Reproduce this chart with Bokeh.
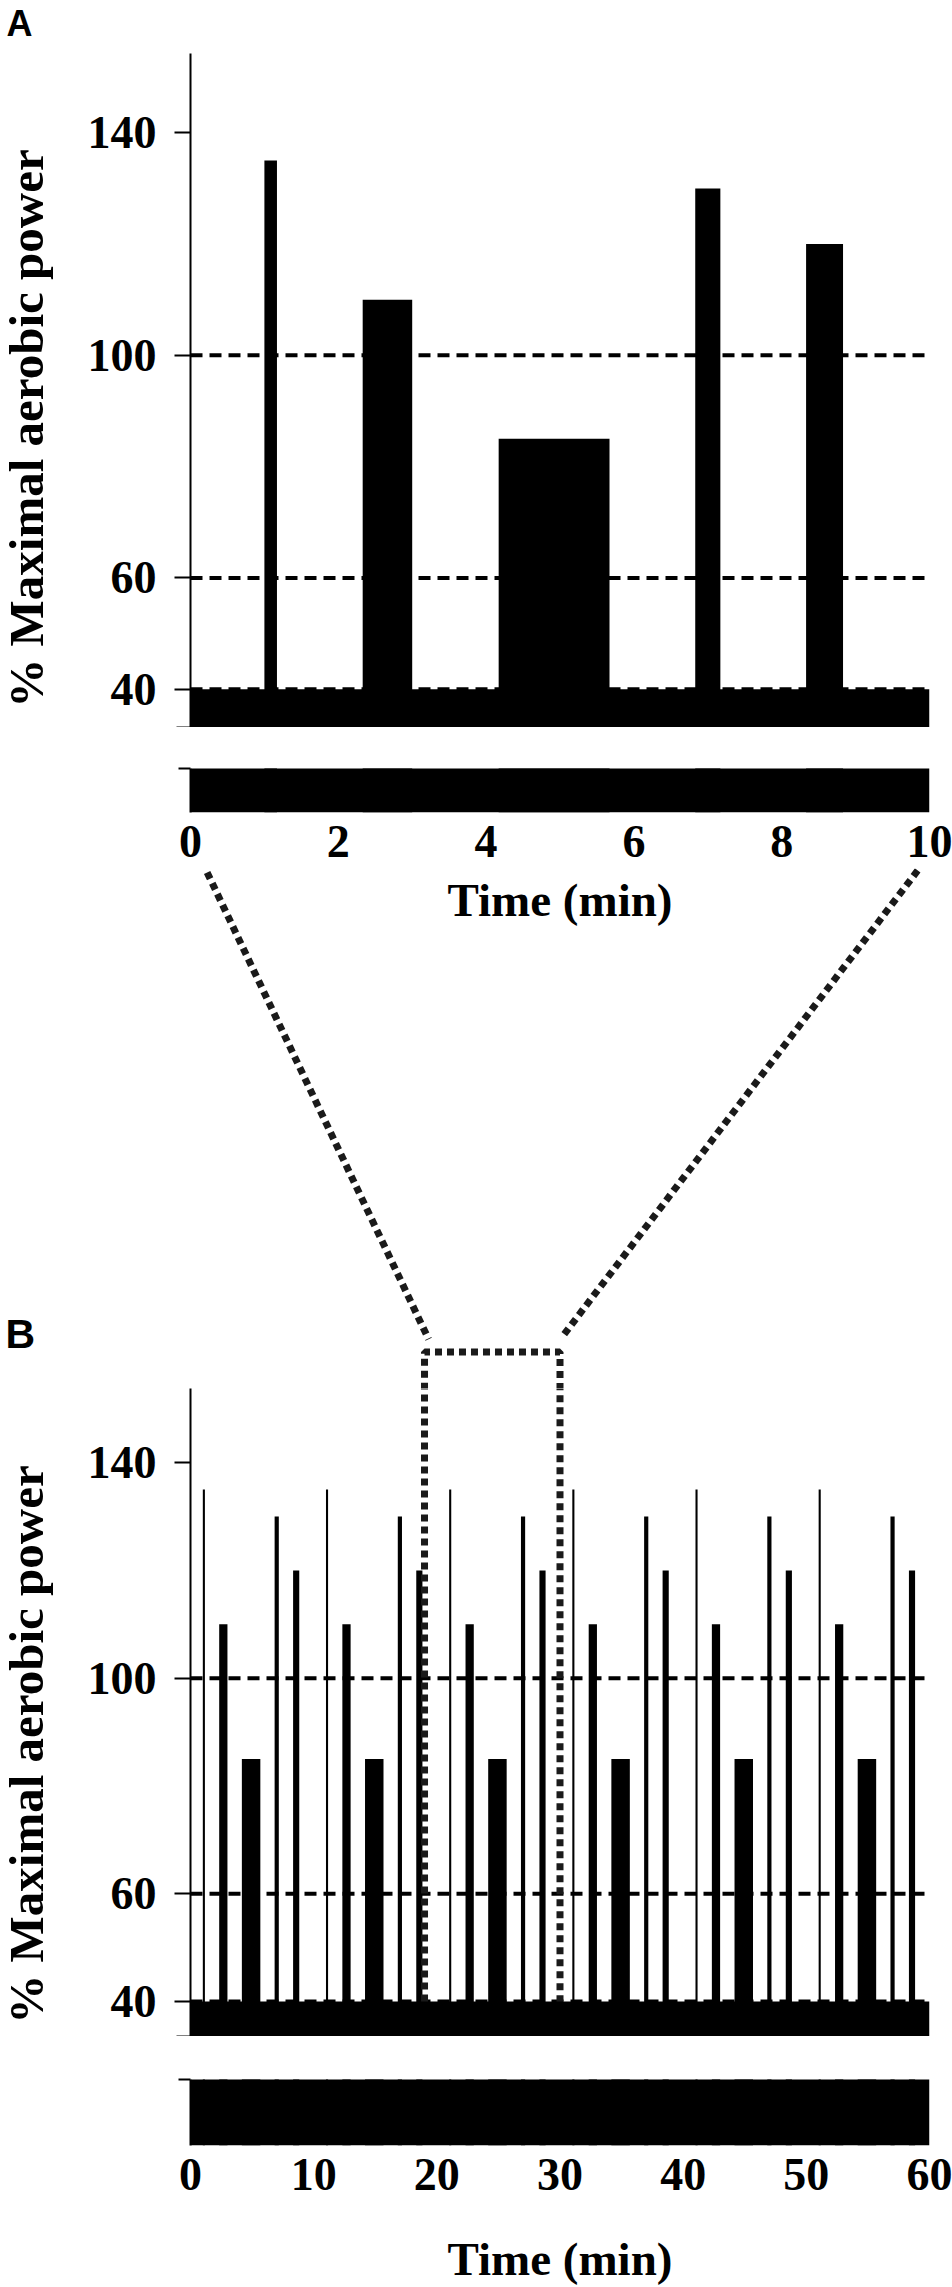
import math
from bokeh.plotting import figure
from bokeh.layouts import column, row
from bokeh.models import Range1d, FixedTicker, Label, LinearAxis, ColumnDataSource
from bokeh.embed import file_html
from bokeh.resources import INLINE

# ---------------- data ----------------
REST_POWER = 40                      # % maximal aerobic power during recovery
y_tick_values = [40, 60, 100, 140]
reference_levels = [40, 60, 100]

# Panel A: one 10-min block
a_duration = 10
a_x_ticks = [0, 2, 4, 6, 8, 10]
a_start = [1.0, 2.33, 4.17, 6.83, 8.33]
a_end = [1.17, 3.0, 5.67, 7.17, 8.83]
a_power = [135, 110, 85, 130, 120]

# Panel B: the 60-min session (six blocks)
b_duration = 60
b_x_ticks = [0, 10, 20, 30, 40, 50, 60]
b_start = [1.0, 2.33, 4.17, 6.83, 8.33,
           11.0, 12.33, 14.17, 16.83, 18.33,
           21.0, 22.33, 24.17, 26.83, 28.33,
           31.0, 32.33, 34.17, 36.83, 38.33,
           41.0, 42.33, 44.17, 46.83, 48.33,
           51.0, 52.33, 54.17, 56.83, 58.33]
b_end = [1.17, 3.0, 5.67, 7.17, 8.83,
         11.17, 13.0, 15.67, 17.17, 18.83,
         21.17, 23.0, 25.67, 27.17, 28.83,
         31.17, 33.0, 35.67, 37.17, 38.83,
         41.17, 43.0, 45.67, 47.17, 48.83,
         51.17, 53.0, 55.67, 57.17, 58.83]
b_power = [135, 110, 85, 130, 120,
           135, 110, 85, 130, 120,
           135, 110, 85, 130, 120,
           135, 110, 85, 130, 120,
           135, 110, 85, 130, 120,
           135, 110, 85, 130, 120]
zoom_window = [19, 30]               # part of B magnified in A

y_label = "% Maximal aerobic power"
x_label = "Time (min)"

# ---------------- layout / style constants ----------------
TOTAL_H = 2287
LEFT_W = 60
MAIN_W = 892
BL, BR = 130, 23
SERIF = "Liberation Serif"
SANS = "Liberation Sans"
INK = "black"
DOT = "#1a1a1a"


def make_fig(width, height, x_range, y_range, top=0, bottom=0, left=BL, right=BR):
    p = figure(width=width, height=height, x_range=x_range, y_range=y_range,
               output_backend="svg", toolbar_location=None,
               x_axis_location=None, y_axis_location=None,
               min_border_left=left, min_border_right=right,
               min_border_top=top, min_border_bottom=bottom)
    p.outline_line_color = None
    p.background_fill_color = "white"
    p.border_fill_color = "white"
    p.grid.visible = False
    return p


def style_axis(ax, size="46px"):
    ax.axis_line_color = INK
    ax.axis_line_width = 2
    ax.major_tick_line_color = INK
    ax.major_tick_line_width = 2
    ax.minor_tick_line_color = INK
    ax.minor_tick_line_width = 2
    ax.minor_tick_in = 0
    ax.major_label_text_font = SERIF
    ax.major_label_text_font_style = "bold"
    ax.major_label_text_font_size = size
    ax.major_label_text_color = INK


def draw_bars(p, duration, src):
    p.quad(left=[0], right=[duration], bottom=[0], top=[REST_POWER],
           fill_color=INK, line_color=None)
    p.quad(left="start", right="end", bottom=0, top="power", source=src,
           fill_color=INK, line_color=None)


def upper_y_axis(p, y_bottom):
    ax = LinearAxis(ticker=FixedTicker(ticks=y_tick_values, minor_ticks=[y_bottom]))
    style_axis(ax)
    ax.major_tick_out = 16
    ax.major_tick_in = 0
    ax.minor_tick_out = 14
    ax.major_label_standoff = 18
    p.add_layout(ax, "left")


def strip_axes(p, strip_top, ticks, standoff, with_label):
    ay = LinearAxis(ticker=FixedTicker(ticks=[], minor_ticks=[strip_top]))
    style_axis(ay)
    ay.minor_tick_out = 12
    p.add_layout(ay, "left")
    ax = LinearAxis(ticker=FixedTicker(ticks=ticks))
    style_axis(ax)
    ax.axis_line_color = None
    ax.major_tick_out = 0
    ax.major_tick_in = 0
    ax.minor_tick_out = 0
    ax.major_label_standoff = standoff
    if with_label:
        ax.axis_label = x_label
        ax.axis_label_text_font = SERIF
        ax.axis_label_text_font_style = "bold"
        ax.axis_label_text_font_size = "47px"
        ax.axis_label_text_color = INK
        ax.axis_label_standoff = 40
    p.add_layout(ax, "below")


def serif_label(x, y, text, angle=0.0, size="47px"):
    return Label(x=x, y=y, text=text, angle=angle, text_align="center",
                 text_baseline="middle", text_font=SERIF,
                 text_font_style="bold", text_font_size=size, text_color=INK)


def panel_letter(x, y, text, size):
    return Label(x=x, y=y, text=text, text_align="left",
                 text_baseline="middle", text_font=SANS,
                 text_font_style="bold", text_font_size=size, text_color=INK)


a_src = ColumnDataSource(dict(start=a_start, end=a_end, power=a_power))
b_src = ColumnDataSource(dict(start=b_start, end=b_end, power=b_power))

# ---------------- Panel A ----------------
a_x = Range1d(0, a_duration)
A_BOTTOM = 33.12
a_up = make_fig(MAIN_W, 727, a_x, Range1d(A_BOTTOM, 154.24), top=53)
draw_bars(a_up, a_duration, a_src)
a_up.segment(x0=0, x1=a_duration, y0=reference_levels, y1=reference_levels,
             line_dash="12 7", line_width=4, line_color=INK)
upper_y_axis(a_up, A_BOTTOM)

A_STRIP = 7.9
a_low = make_fig(MAIN_W, 141, a_x, Range1d(0, A_STRIP), top=41, bottom=56)
draw_bars(a_low, a_duration, a_src)
strip_axes(a_low, A_STRIP, a_x_ticks, 13, False)

# ---------------- connector region ----------------
b_x = Range1d(0, b_duration)
BOX_TOP = 160.5
box_x = [zoom_window[0], zoom_window[0], zoom_window[1], zoom_window[1]]
box_y = [REST_POWER, BOX_TOP, BOX_TOP, REST_POWER]

mid = make_fig(MAIN_W, 520, b_x, Range1d(153.75, 250.22))
mid.multi_line(xs=[[1.35, 19.33], [59.04, 30.2]], ys=[[249.5, 162.9], [249.85, 163.4]],
               line_dash="7 5", line_width=7, line_color=DOT)
mid.line(x=box_x, y=box_y, line_dash="7 5", line_width=7, line_color=DOT)
mid.add_layout(serif_label(b_duration / 2, 244.3, x_label))

# ---------------- Panel B ----------------
B_BOTTOM = 33.52
b_up = make_fig(MAIN_W, 648, b_x, Range1d(B_BOTTOM, 153.75))
draw_bars(b_up, b_duration, b_src)
b_up.segment(x0=0, x1=b_duration, y0=reference_levels, y1=reference_levels,
             line_dash="12 7", line_width=4, line_color=INK)
b_up.line(x=box_x, y=box_y, line_dash="7 5", line_width=7, line_color=DOT)
upper_y_axis(b_up, B_BOTTOM)

B_STRIP = 12.43
b_low = make_fig(MAIN_W, 251, b_x, Range1d(0, B_STRIP), top=43, bottom=141)
draw_bars(b_low, b_duration, b_src)
strip_axes(b_low, B_STRIP, b_x_ticks, 13, True)

# ---------------- left column: panel letters and y-axis titles ----------------
side = make_fig(LEFT_W, TOTAL_H, Range1d(0, LEFT_W), Range1d(0, TOTAL_H), left=0, right=0)
side.add_layout(panel_letter(6, TOTAL_H - 22.5, "A", "36px"))
side.add_layout(panel_letter(5, TOTAL_H - 1333, "B", "41px"))
side.add_layout(serif_label(26, TOTAL_H - 428, y_label, angle=math.pi / 2, size="49px"))
side.add_layout(serif_label(26, TOTAL_H - 1744, y_label, angle=math.pi / 2, size="49px"))

main = column(a_up, a_low, mid, b_up, b_low, spacing=0)
layout = row(side, main, spacing=0)
open("out.html", "w").write(file_html(layout, INLINE, "Intermittent exercise protocol"))
